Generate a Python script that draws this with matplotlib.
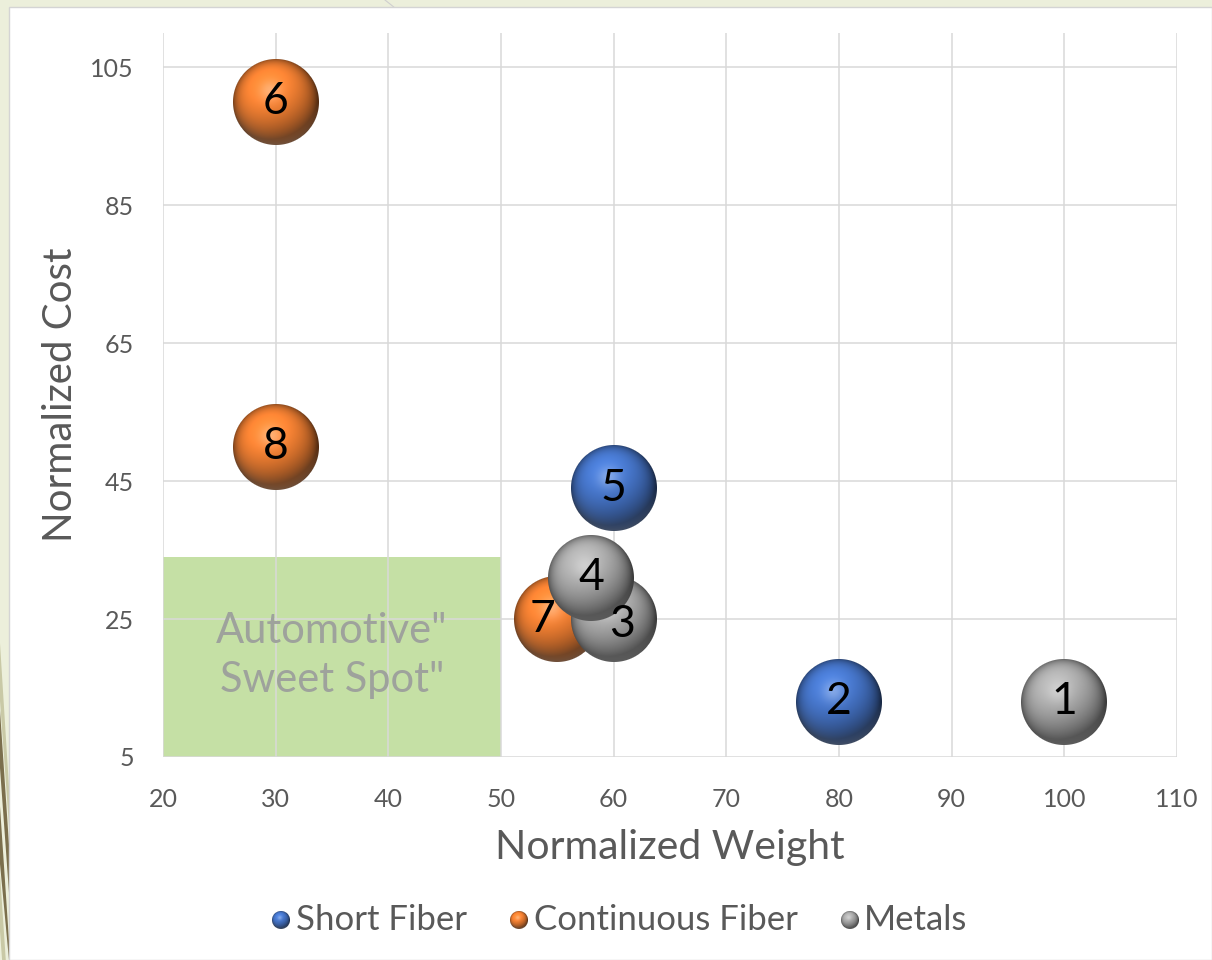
import numpy as np
import matplotlib
matplotlib.use("Agg")
import matplotlib.pyplot as plt
from matplotlib.patches import Rectangle, Polygon
from matplotlib.lines import Line2D
from matplotlib.offsetbox import (OffsetImage, AnnotationBbox, HPacker,
                                  TextArea, AnchoredOffsetbox)

plt.rcParams["font.family"] = ["Lato", "DejaVu Sans"]

# ---- data -------------------------------------------------------------
categories = ["Short Fiber", "Continuous Fiber", "Metals"]
labels = ["1", "2", "3", "4", "5", "6", "7", "8"]
weight = [100, 80, 60, 58, 60, 30, 55, 30]
cost = [13, 13, 25, 31, 44, 100, 25, 50]
group = ["Metals", "Short Fiber", "Metals", "Metals", "Short Fiber",
         "Continuous Fiber", "Continuous Fiber", "Continuous Fiber"]
x_ticks = [20, 30, 40, 50, 60, 70, 80, 90, 100, 110]
y_ticks = [5, 25, 45, 65, 85, 105]
sweet_spot_weight = [20, 50]
sweet_spot_cost = [5, 34]
sweet_spot_text = 'Automotive"\nSweet Spot"'

colors = {"Short Fiber": "#4472C4", "Continuous Fiber": "#ED7D31",
          "Metals": "#A5A5A5"}
TEXT = "#595959"


def sphere(hex_color, d):
    """RGBA image of a shaded glossy sphere, d pixels across."""
    base = np.array(matplotlib.colors.to_rgb(hex_color))
    yy, xx = np.mgrid[0:d, 0:d]
    u = (xx + 0.5 - d / 2) / (d / 2)
    v = -(yy + 0.5 - d / 2) / (d / 2)
    r2 = u ** 2 + v ** 2
    r = np.sqrt(r2)
    z = np.sqrt(np.clip(1 - r2, 0, 1))
    L = np.array([-0.25, 0.5, 0.83])
    L /= np.linalg.norm(L)
    diff = np.clip(u * L[0] + v * L[1] + z * L[2], 0, 1)
    shade = 0.48 + 0.68 * diff
    col = base[None, None, :] * shade[..., None]
    col *= (1 - 0.30 * np.clip(r2, 0, 1) ** 4)[..., None]
    H = L + np.array([0, 0, 1.0])
    H /= np.linalg.norm(H)
    spec = np.clip(u * H[0] + v * H[1] + z * H[2], 0, 1) ** 30 * 0.30
    refl = np.clip(-v, 0, 1) * np.clip(r2, 0, 1) ** 2 * 0.18
    col = col + (spec + refl)[..., None] * (1 - col)
    col = np.clip(col, 0, 1)
    alpha = np.clip((1 - r) * d / 2 + 0.5, 0, 1)
    return np.dstack([col, alpha])


fig = plt.figure(figsize=(12.12, 9.6), dpi=100)
fig.patch.set_facecolor("#ecefdb")

# slide decoration on the left margin
deco = [
    ([(0, 0.33), (9 / 1212, 0.18), (9 / 1212, 0.14), (0, 0.27)], "#c9c9a6"),
    ([(0, 0.26), (9 / 1212, 0.12), (9 / 1212, 0.07), (0, 0.20)], "#7b6f4d"),
    ([(0, 0.16), (9 / 1212, 0.02), (9 / 1212, 0.0), (0, 0.10)], "#7b6f4d"),
    ([(0, 0.09), (9 / 1212, -0.05), (9 / 1212, -0.1), (0, 0.03)], "#c9c9a6"),
]
for pts, c in deco:
    fig.patches.append(Polygon(pts, closed=True, transform=fig.transFigure,
                               facecolor=c, edgecolor="none", zorder=-3))
fig.lines.append(Line2D([385 / 1212, 395 / 1212], [1.0, 952 / 960],
                        transform=fig.transFigure, color="#cfcfcf", lw=0.8,
                        zorder=-3))

# white chart area
fig.patches.append(Rectangle((9 / 1212, 0), 1 - 9 / 1212, 953 / 960,
                             transform=fig.transFigure, facecolor="white",
                             edgecolor="#d4d4d4", lw=1.0, zorder=-2))

ax = fig.add_axes([163 / 1212, (960 - 757) / 960, 1014 / 1212, 724 / 960])
ax.set_facecolor("none")
ax.set_xlim(20, 110)
ax.set_ylim(5, 110)
ax.set_xticks(x_ticks)
ax.set_yticks(y_ticks)
for s in ax.spines.values():
    s.set_visible(False)
ax.set_axisbelow(True)
ax.grid(True, color="#d9d9d9", lw=1.1)
ax.tick_params(length=0, labelsize=18, labelcolor=TEXT)
ax.tick_params(axis="x", pad=22)
ax.tick_params(axis="y", pad=21)

# sweet spot region
ax.add_patch(Rectangle((sweet_spot_weight[0], sweet_spot_cost[0]),
                       sweet_spot_weight[1] - sweet_spot_weight[0],
                       sweet_spot_cost[1] - sweet_spot_cost[0],
                       facecolor="#c5e0a5", edgecolor="none", zorder=0.3))
ax.text(35, 19.7, sweet_spot_text, ha="center", va="center", fontsize=30,
        color="#9ea29c", linespacing=1.35, zorder=1)

# bubbles, drawn series by series
BUBBLE_PX = 86
label_offsets = {"7": (-11, 0), "3": (6, -4)}
for cat in categories:
    img = sphere(colors[cat], BUBBLE_PX)
    for lab, xw, yc, g in zip(labels, weight, cost, group):
        if g != cat:
            continue
        ab = AnnotationBbox(OffsetImage(img, zoom=1, dpi_cor=False),
                            (xw, yc), xycoords="data", frameon=False,
                            pad=0, zorder=3)
        ax.add_artist(ab)

for lab, xw, yc in zip(labels, weight, cost):
    dx, dy = label_offsets.get(lab, (0, 0))
    ax.annotate(lab, (xw, yc), xytext=(dx, dy), textcoords="offset points",
                ha="center", va="center", fontsize=32, color="black",
                zorder=5)

ax.set_xlabel("Normalized Weight", fontsize=29.5, color=TEXT)
ax.set_ylabel("Normalized Cost", fontsize=29, color=TEXT)
ax.xaxis.set_label_coords(0.5, (757 - 847) / 724)
ax.xaxis.label.set_verticalalignment("center")
ax.yaxis.set_label_coords((60 - 163) / 1014, 0.5)
ax.yaxis.label.set_verticalalignment("center")

# legend row of small spheres and names
items = []
for cat in categories:
    items.append(HPacker(children=[
        OffsetImage(sphere(colors[cat], 18), zoom=1, dpi_cor=False),
        TextArea(cat, textprops=dict(fontsize=25, color=TEXT))],
        sep=4, align="center", pad=0))
legend_box = AnchoredOffsetbox(loc="center",
                               child=HPacker(children=items, sep=31,
                                             align="center", pad=0),
                               bbox_to_anchor=(620 / 1212, 40 / 960),
                               bbox_transform=fig.transFigure,
                               frameon=False, pad=0, borderpad=0)
fig.add_artist(legend_box)

fig.savefig("out.png", dpi=100, facecolor=fig.get_facecolor())
